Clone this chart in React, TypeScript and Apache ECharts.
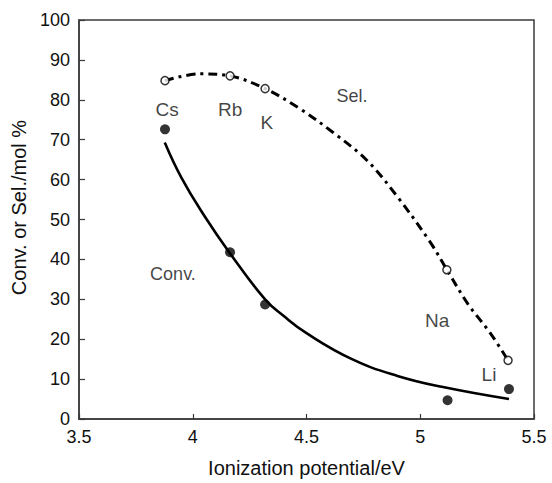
import React, { useEffect, useRef } from "react";
import * as echarts from "echarts";

// Measured points (ionization potential / eV, value / %)
const metals = ["Cs", "Rb", "K", "Na", "Li"];
const ionPotential = [3.878, 4.164, 4.318, 5.12, 5.39];
const conversion = [72.6, 41.8, 28.7, 4.7, 7.5];
const selIonPotential = [3.878, 4.164, 4.318, 5.117, 5.386];
const selectivity = [84.8, 86.0, 82.8, 37.4, 14.7];

// Hand-drawn trend curves
const convCurveX = [3.877, 3.95, 4.05, 4.164, 4.318, 4.4, 4.5, 4.7, 4.9, 5.1, 5.39];
const convCurveY = [69.3, 60.5, 51.0, 41.5, 30.0, 25.8, 21.5, 15.0, 10.8, 8.0, 5.0];
const selCurveX = [3.878, 4.03, 4.164, 4.318, 4.47, 4.617, 4.766, 4.897, 5.043, 5.117, 5.21, 5.307, 5.386];
const selCurveY = [84.8, 86.5, 86.0, 82.8, 77.8, 71.8, 64.8, 55.9, 44.4, 37.4, 28.8, 21.6, 14.7];

// Text annotations (data coordinates)
const noteText = ["Cs", "Rb", "K", "Sel.", "Conv.", "Na", "Li"];
const noteX = [3.887, 4.164, 4.326, 4.70, 3.913, 5.074, 5.302];
const noteY = [77.6, 77.6, 74.3, 81.0, 36.4, 24.7, 11.2];
const noteSize = [19, 19, 19, 18, 18, 19, 19];

const FONT = "'Liberation Sans', Arial, sans-serif";

export default function App() {
  const ref = useRef<HTMLDivElement>(null);
  useEffect(() => {
    if (!ref.current) return;
    const chart = echarts.init(ref.current, null, { renderer: "svg" });
    const axisColor = "#3a3a3a";
    chart.setOption({
      animation: false,
      backgroundColor: "#ffffff",
      textStyle: { fontFamily: FONT },
      grid: {
        left: 79,
        right: 18,
        top: 20,
        bottom: 62,
        show: true,
        borderColor: axisColor,
        borderWidth: 1.5,
        backgroundColor: "transparent",
      },
      xAxis: {
        type: "value",
        min: 3.5,
        max: 5.5,
        interval: 0.5,
        name: "Ionization potential/eV",
        nameLocation: "middle",
        nameGap: 39,
        nameTextStyle: { fontSize: 20, color: "#111", fontFamily: FONT },
        axisLine: { show: true, lineStyle: { color: axisColor, width: 1.5 } },
        axisTick: { show: true, inside: true, length: 5, lineStyle: { color: axisColor, width: 1.2 } },
        axisLabel: { fontSize: 18, color: "#111", margin: 9, fontFamily: FONT },
        splitLine: { show: false },
      },
      yAxis: {
        type: "value",
        min: 0,
        max: 100,
        interval: 10,
        name: "Conv. or Sel./mol %",
        nameLocation: "middle",
        nameGap: 48,
        nameTextStyle: { fontSize: 20, color: "#111", fontFamily: FONT, padding: [0, 0, 0, 24] },
        axisLine: { show: true, lineStyle: { color: axisColor, width: 1.5 } },
        axisTick: { show: true, inside: true, length: 6, lineStyle: { color: axisColor, width: 1.2 } },
        axisLabel: { fontSize: 18, color: "#111", margin: 9, fontFamily: FONT },
        splitLine: { show: false },
      },
      series: [
        {
          type: "line",
          smooth: 0.45,
          showSymbol: false,
          data: convCurveX.map((x, i) => [x, convCurveY[i]]),
          lineStyle: { color: "#000", width: 2.6 },
          z: 2,
        },
        {
          type: "line",
          smooth: 0.35,
          showSymbol: false,
          data: selCurveX.map((x, i) => [x, selCurveY[i]]),
          lineStyle: { color: "#000", width: 3, type: [9, 5, 3, 5] },
          z: 2,
        },
        {
          type: "scatter",
          symbol: "circle",
          symbolSize: 10,
          data: ionPotential.map((x, i) => ({ name: metals[i], value: [x, conversion[i]] })),
          itemStyle: { color: "#000" },
          z: 3,
        },
        {
          type: "scatter",
          symbol: "circle",
          symbolSize: 8,
          data: selIonPotential.map((x, i) => ({ name: metals[i], value: [x, selectivity[i]] })),
          itemStyle: { color: "#fff", borderColor: "#000", borderWidth: 1.5 },
          z: 3,
        },
        {
          type: "scatter",
          symbolSize: 0,
          silent: true,
          data: noteX.map((x, i) => ({
            value: [x, noteY[i]],
            label: {
              show: true,
              position: "inside",
              formatter: noteText[i],
              fontSize: noteSize[i],
              color: "#111",
              fontFamily: FONT,
            },
          })),
          z: 4,
        },
      ],
    });
    return () => chart.dispose();
  }, []);
  return (
    <div
      ref={ref}
      style={{ position: "fixed", left: 0, top: 0, width: 552, height: 483, background: "#fff" }}
    />
  );
}
